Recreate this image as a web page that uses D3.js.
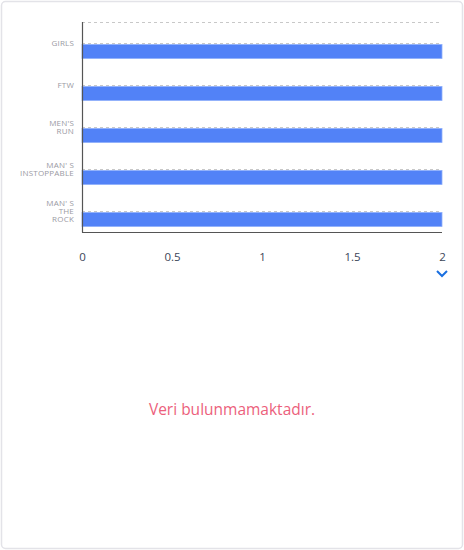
<!DOCTYPE html>
<html><head><meta charset="utf-8">
<script src="https://cdn.jsdelivr.net/npm/d3@7/dist/d3.min.js"></script>
<style>
html,body{margin:0;padding:0;background:#fff;}
svg{display:block;font-family:"Open Sans","Noto Sans",sans-serif;}
</style></head>
<body>
<script>
const categories = ["GIRLS", "FTW", "MEN'S RUN", "MAN' S INSTOPPABLE", "MAN' S THE ROCK"];
const categoryLines = [["GIRLS"], ["FTW"], ["MEN'S", "RUN"], ["MAN' S", "INSTOPPABLE"], ["MAN' S", "THE", "ROCK"]];
const values = [2, 2, 2, 2, 2];
const xTicks = [0, 0.5, 1, 1.5, 2];
const noDataText = "Veri bulunmamaktadır.";

(function () {
const W = 464, H = 550;
const svg = d3.select("body").append("svg").attr("width", W).attr("height", H);

svg.append("rect").attr("x", 1.5).attr("y", 1.5).attr("width", W - 3).attr("height", H - 3)
  .attr("rx", 4).attr("fill", "#fff").attr("stroke", "#e3e3e8").attr("stroke-width", 1.5);

const pL = 82, pR = 442, pT = 22, pB = 232;
const x = d3.scaleLinear().domain([0, 2]).range([pL, pR]);
const y = d3.scaleBand().domain(categories).range([pT, pB]);
const bw = y.bandwidth();

// gridlines
const grid = svg.append("g");
grid.append("line").attr("x1", pL).attr("x2", pR).attr("y1", pT + 0.5).attr("y2", pT + 0.5)
  .attr("stroke", "#c8c8c8").attr("stroke-dasharray", "3,3");
categories.forEach(c => {
  const yy = Math.round(y(c) + bw / 2) + 0.5;
  grid.append("line").attr("x1", pL).attr("x2", pR).attr("y1", yy).attr("y2", yy)
    .attr("stroke", "#c8c8c8").attr("stroke-dasharray", "3,3");
});

// bars
svg.append("g").selectAll("rect").data(categories).join("rect")
  .attr("x", x(0))
  .attr("y", c => y(c) + bw / 2 + 1.5)
  .attr("width", (c, i) => x(values[i]) - x(0))
  .attr("height", 14)
  .attr("fill", "#5282f7")
  .attr("stroke", "#8eaefa").attr("stroke-width", 0.8);

// axes lines
svg.append("line").attr("x1", pL + 0.5).attr("x2", pL + 0.5).attr("y1", pT).attr("y2", pB + 0.5)
  .attr("stroke", "#555").attr("stroke-width", 1.2);
svg.append("line").attr("x1", pL).attr("x2", pR).attr("y1", pB + 0.5).attr("y2", pB + 0.5)
  .attr("stroke", "#555").attr("stroke-width", 1.2);

// y labels (one text per category, lines as tspans)
const yl = svg.append("g");
categories.forEach((c, i) => {
  const lines = categoryLines[i];
  const cy = y(c) + bw / 2;
  const lh = 8;
  const start = cy - (lines.length - 1) * lh / 2;
  const t = yl.append("text").attr("text-anchor", "end").attr("font-size", 8)
    .attr("font-weight", 500).attr("letter-spacing", 0.2).attr("fill", "#9a9aa3");
  lines.forEach((s, j) => {
    t.append("tspan").attr("x", 74).attr("y", start + j * lh + 2.8).text(s);
  });
});

// x axis ticks
const xAxis = d3.axisBottom(x).tickValues(xTicks).tickSize(0).tickPadding(0).tickFormat(d3.format(""));
const xg = svg.append("g").attr("transform", `translate(0,${pB + 25})`).call(xAxis);
xg.select(".domain").remove();
xg.selectAll("text").attr("font-size", 11.5).attr("fill", "#3c4658")
  .attr("font-family", "'Open Sans','Noto Sans',sans-serif").attr("dy", "0.35em");

// chevron
svg.append("path").attr("d", `M${pR - 5},271 L${pR},276 L${pR + 5},271`)
  .attr("fill", "none").attr("stroke", "#1a6fe0").attr("stroke-width", 2);

// no data text
svg.append("text").attr("x", 232).attr("y", 410).attr("dy", "0.35em").attr("text-anchor", "middle")
  .attr("font-size", 15.5).attr("font-weight", 500).attr("fill", "#ec5f7c").text(noDataText);
})();
</script>
</body></html>
